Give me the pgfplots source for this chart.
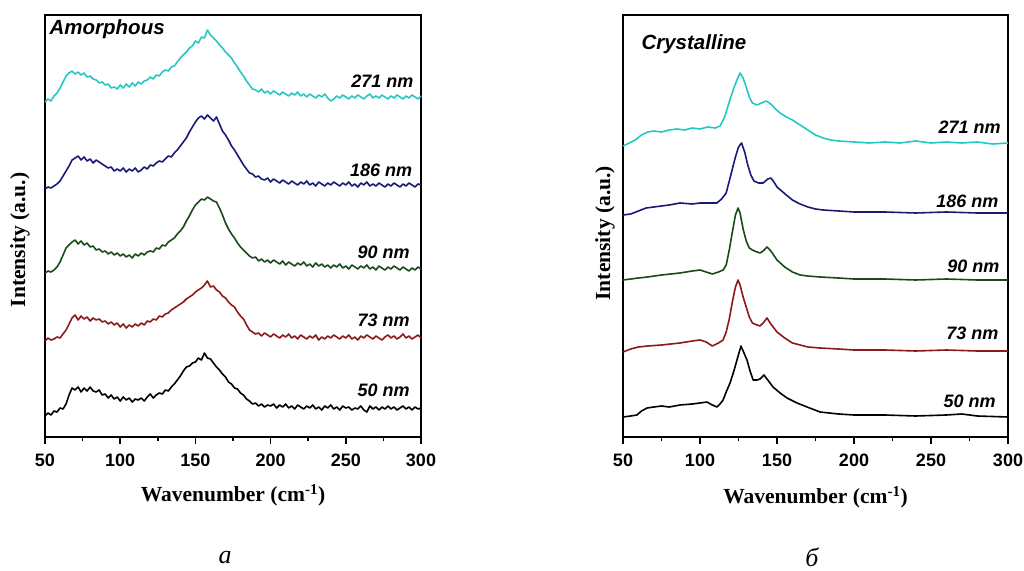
\documentclass[border=0pt]{standalone}
\usepackage{fontspec}
\setmainfont{Liberation Serif}
\newfontfamily\sansf{Liberation Sans}
\usepackage{pgfplots}
\pgfplotsset{compat=1.18}
\definecolor{ccyan}{RGB}{35,200,195}
\definecolor{cnavy}{RGB}{25,25,120}
\definecolor{cgreen}{RGB}{25,75,25}
\definecolor{cred}{RGB}{140,25,25}
\pgfplotsset{
  spec/.style={
    scale only axis, height=422pt,
    xmin=50, xmax=300, ymin=0, ymax=422,
    xtick={50,100,...,300}, minor x tick num=1,
    ytick=\empty, tick align=outside, xtick pos=bottom,
    major tick length=7pt, minor tick length=4pt,
    axis line style={line width=1.8pt},
    every tick/.style={black, line width=1.5pt},
    /pgf/number format/assume math mode=true,
    xticklabel style={font=\sansf\bfseries\fontsize{18}{20}\selectfont, yshift=-6pt},
    label style={font=\bfseries\fontsize{21.5}{24}\selectfont},
    xlabel={Wavenumber (cm\textsuperscript{-1})},
    ylabel={Intensity (a.u.)},
    clip=false,
  },
  curve/.style={line width=1.6pt, line join=round},
}
\tikzset{lab/.style={anchor=base east, font=\sansf\bfseries\itshape\fontsize{18}{20}\selectfont},
  ttl/.style={anchor=base west, font=\sansf\bfseries\itshape\fontsize{20.5}{22}\selectfont}}
\begin{document}
\begin{tikzpicture}[x=1pt,y=1pt]
\path[use as bounding box] (0,0) rectangle (1024,570);
% ---------------- Amorphous ----------------
\begin{axis}[spec, at={(45pt,133pt)}, anchor=south west, width=376pt,
  xlabel style={at={(axis description cs:0.5,-0.154)}, anchor=base},
  ylabel style={at={(axis description cs:-0.0665,0.467)}, anchor=center, rotate=0}]
% 50 nm
\addplot[curve, black] coordinates {(50,21)(52,24)(54,22)(56,26)(58,25)(60,29)(62,28)(64,33)(66,42)(68,49)(70,47)(72,50)(74,45)(76,49)(78,46)(80,50)(82,46)(84,45)(86,47)(88,42)(90,43)(92,39)(94,42)(96,38)(98,40)(100,36)(102,40)(104,37)(106,39)(108,35)(110,38)(112,37)(114,39)(116,36)(118,40)(120,43)(122,39)(124,42)(126,44)(128,43)(130,47)(132,46)(134,50)(136,53)(138,57)(140,61)(142,66)(144,70)(146,71)(148,74)(150,75)(152,79)(154,77)(156,84)(158,79)(160,78)(162,74)(164,70)(166,67)(168,63)(170,60)(172,55)(174,53)(176,49)(178,48)(180,44)(182,42)(184,38)(186,36)(188,33)(190,34)(192,31)(194,33)(196,30)(198,32)(200,31)(202,33)(204,29)(206,32)(208,30)(210,33)(212,29)(214,31)(216,28)(218,32)(220,30)(222,28)(224,31)(226,29)(228,32)(230,28)(232,30)(234,27)(236,31)(238,29)(240,32)(242,28)(244,30)(246,27)(248,31)(250,29)(252,30)(254,27)(256,29)(258,28)(260,31)(262,27)(264,25)(266,31)(268,28)(270,30)(272,27)(274,30)(276,28)(278,31)(280,28)(282,30)(284,27)(286,29)(288,31)(290,28)(292,30)(294,27)(296,30)(298,28)(300,29)};
% 73 nm
\addplot[curve, cred] coordinates {(50,96)(52,99)(54,97)(56,98)(58,100)(60,99)(62,103)(64,107)(66,113)(68,119)(70,122)(72,117)(74,121)(76,118)(78,120)(80,116)(82,119)(84,117)(86,118)(88,115)(90,116)(92,113)(94,115)(96,112)(98,114)(100,110)(102,113)(104,109)(106,112)(108,110)(110,113)(112,111)(114,114)(116,112)(118,116)(120,115)(122,118)(124,117)(126,121)(128,120)(130,123)(132,124)(134,127)(136,129)(138,131)(140,133)(142,135)(144,138)(146,140)(148,142)(150,145)(152,147)(154,149)(156,152)(158,156)(160,150)(162,151)(164,147)(166,145)(168,141)(170,139)(172,135)(174,132)(176,130)(178,125)(180,121)(182,118)(184,112)(186,107)(188,105)(190,103)(192,104)(194,101)(196,104)(198,102)(200,100)(202,103)(204,101)(206,99)(208,102)(210,100)(212,103)(214,99)(216,101)(218,98)(220,102)(222,100)(224,98)(226,101)(228,99)(230,102)(232,97)(234,100)(236,98)(238,101)(240,99)(242,102)(244,100)(246,98)(248,101)(250,99)(252,102)(254,98)(256,100)(258,97)(260,101)(262,99)(264,102)(266,100)(268,98)(270,101)(272,99)(274,97)(276,100)(278,102)(280,99)(282,101)(284,98)(286,100)(288,103)(290,99)(292,101)(294,98)(296,100)(298,102)(300,99)};
% 90 nm
\addplot[curve, cgreen] coordinates {(50,164)(52,166)(54,165)(56,167)(58,170)(60,175)(62,182)(64,189)(66,192)(68,195)(70,197)(72,193)(74,196)(76,192)(78,194)(80,190)(82,191)(84,187)(86,188)(88,185)(90,186)(92,183)(94,185)(96,182)(98,184)(100,181)(102,183)(104,180)(106,182)(108,179)(110,183)(112,181)(114,184)(116,182)(118,185)(120,186)(122,185)(124,189)(126,188)(128,192)(130,191)(132,195)(134,197)(136,199)(138,203)(140,206)(142,210)(144,216)(146,221)(148,227)(150,232)(152,235)(154,238)(156,237)(158,240)(160,238)(162,236)(164,235)(166,229)(168,222)(170,214)(172,208)(174,203)(176,199)(178,194)(180,190)(182,187)(184,184)(186,181)(188,179)(190,180)(192,176)(194,178)(196,175)(198,177)(200,174)(202,177)(204,175)(206,173)(208,176)(210,172)(212,175)(214,173)(216,171)(218,174)(220,172)(222,175)(224,171)(226,173)(228,170)(230,174)(232,171)(234,173)(236,170)(238,172)(240,169)(242,172)(244,170)(246,173)(248,169)(250,171)(252,168)(254,172)(256,170)(258,168)(260,171)(262,169)(264,172)(266,168)(268,170)(270,167)(272,171)(274,169)(276,167)(278,170)(280,168)(282,171)(284,169)(286,167)(288,170)(290,168)(292,166)(294,169)(296,167)(298,170)(300,168)};
% 186 nm
\addplot[curve, cnavy] coordinates {(50,248)(52,250)(54,249)(56,251)(58,253)(60,256)(62,261)(64,266)(66,271)(68,277)(70,279)(72,281)(74,277)(76,280)(78,276)(80,278)(82,274)(84,277)(86,275)(88,273)(90,271)(92,269)(94,270)(96,266)(98,268)(100,266)(102,269)(104,265)(106,268)(108,266)(110,269)(112,265)(114,267)(116,270)(118,268)(120,272)(122,271)(124,274)(126,276)(128,275)(130,278)(132,281)(134,280)(136,284)(138,287)(140,291)(142,295)(144,299)(146,305)(148,310)(150,315)(152,319)(154,321)(156,318)(158,322)(160,319)(162,316)(164,320)(166,313)(168,306)(170,302)(172,297)(174,291)(176,287)(178,282)(180,277)(182,272)(184,268)(186,264)(188,263)(190,260)(192,261)(194,258)(196,257)(198,259)(200,255)(202,258)(204,256)(206,254)(208,257)(210,255)(212,253)(214,256)(216,254)(218,252)(220,255)(222,253)(224,256)(226,252)(228,254)(230,251)(232,255)(234,253)(236,251)(238,254)(240,252)(242,255)(244,253)(246,251)(248,254)(250,252)(252,255)(254,251)(256,253)(258,250)(260,254)(262,252)(264,255)(266,251)(268,253)(270,251)(272,254)(274,252)(276,250)(278,253)(280,251)(282,254)(284,252)(286,250)(288,253)(290,251)(292,254)(294,252)(296,250)(298,253)(300,252)};
% 271 nm
\addplot[curve, ccyan] coordinates {(50,335)(52,338)(54,336)(56,341)(58,344)(60,349)(62,355)(64,361)(66,364)(68,366)(70,363)(72,365)(74,362)(76,364)(78,360)(80,361)(82,358)(84,357)(86,354)(88,355)(90,352)(92,353)(94,349)(96,350)(98,348)(100,352)(102,349)(104,353)(106,350)(108,354)(110,351)(112,355)(114,353)(116,356)(118,357)(120,360)(122,358)(124,362)(126,361)(128,365)(130,367)(132,366)(134,370)(136,371)(138,375)(140,379)(142,382)(144,385)(146,389)(148,391)(150,396)(152,394)(154,400)(156,399)(158,407)(160,402)(162,399)(164,396)(166,392)(168,389)(170,385)(172,382)(174,379)(176,374)(178,370)(180,365)(182,361)(184,356)(186,352)(188,348)(190,347)(192,345)(194,348)(196,344)(198,346)(200,343)(202,346)(204,344)(206,342)(208,345)(210,343)(212,341)(214,344)(216,342)(218,345)(220,341)(222,343)(224,340)(226,343)(228,341)(230,339)(232,342)(234,340)(236,343)(238,339)(240,336)(242,338)(244,341)(246,339)(248,342)(250,340)(252,338)(254,341)(256,339)(258,342)(260,340)(262,338)(264,341)(266,343)(268,339)(270,341)(272,339)(274,342)(276,340)(278,338)(280,341)(282,339)(284,342)(286,340)(288,338)(290,341)(292,339)(294,342)(296,340)(298,338)(300,341)};
\node[ttl] at (rel axis cs:0.003,0.9526) {Amorphous};
\node[lab] at (rel axis cs:0.989,0.829) {271 nm};
\node[lab] at (rel axis cs:0.986,0.618) {186 nm};
\node[lab] at (rel axis cs:0.979,0.422) {90 nm};
\node[lab] at (rel axis cs:0.979,0.261) {73 nm};
\node[lab] at (rel axis cs:0.979,0.095) {50 nm};
\end{axis}
% ---------------- Crystalline ----------------
\begin{axis}[spec, at={(623pt,133pt)}, anchor=south west, width=385pt,
  xlabel style={at={(axis description cs:0.5,-0.158)}, anchor=base},
  ylabel style={at={(axis description cs:-0.0468,0.483)}, anchor=center, rotate=0}]
\addplot[curve, black] coordinates {(50,20)(55,21)(59,22)(62,26)(65.6,29)(70,30)(75,31)(80,30)(87,32)(95,33)(100,34)(104.5,35)(108,32)(111,30)(113,33)(115,37)(117,45)(119.5,54)(122,66)(124,77)(126.6,91)(128,86)(130.5,77)(132.5,66)(134.5,57)(137,57)(139,58)(141.5,62)(144,57)(147.4,50)(152,44)(156.5,39)(163,34)(169.5,30)(178,25)(190,23)(200,22)(220,22)(240,21)(260,22)(270,23)(280,21)(300,20)};
\addplot[curve, cred] coordinates {(50,85)(55,88)(60,90)(66,91)(75,92)(87,94)(95,96)(100,97)(104,95)(108,91)(112,94)(115,97)(117,105)(119,118)(121,135)(123,150)(124.7,157)(126,152)(128,140)(130,130)(132,120)(134,114)(137,112)(139,111)(141,114)(143.5,119)(146,113)(150,105)(155,99)(160,94)(165,92)(170,90)(178,89)(190,88)(200,87)(220,87)(240,86)(260,87)(280,86)(300,86)};
\addplot[curve, cgreen] coordinates {(50,157)(55,158)(60,159)(66,160)(75,162)(87,164)(95,166)(100,167)(104,165)(108,163)(112,165)(115,167)(117,172)(119,187)(121,205)(123,222)(124.7,229)(126,224)(128,208)(130,196)(132,189)(134,187)(137,185)(139,184)(141,186)(143.5,190)(146,186)(150,177)(155,170)(160,165)(165,162)(170,161)(178,160)(190,159)(200,158)(220,158)(240,157)(260,158)(280,157)(300,157)};
\addplot[curve, cnavy] coordinates {(50,222)(55,223)(60,226)(65,229)(70,230)(75,231)(80,232)(87,234)(95,233)(100,234)(105,234)(111,234)(114,238)(117,244)(119,256)(121,268)(123,280)(125,290)(127,294)(129,285)(131,272)(133,262)(135,256)(138,254)(141,254)(144,258)(146,259)(148,255)(150,250)(153,246)(156,242)(160,237)(165,233)(170,230)(175,228)(180,227)(190,226)(200,225)(220,225)(240,224)(260,225)(280,224)(300,224)};
\addplot[curve, ccyan] coordinates {(50,291)(54,294)(58,297)(62,302)(66,305)(70,306)(75,305)(80,307)(85,308)(90,307)(95,309)(100,308)(105,310)(110,309)(113,311)(116,320)(118,330)(120,340)(122,349)(124,357)(126,364)(128,359)(130,350)(132,340)(134,334)(137,332)(140,334)(143,336)(146,333)(149,328)(152,324)(156,320)(160,317)(165,312)(170,307)(175,302)(180,299)(185,297)(190,296)(200,295)(210,294)(220,295)(230,294)(240,296)(250,294)(260,295)(270,294)(280,295)(290,293)(300,294)};
\node[ttl] at (rel axis cs:0.039,0.919) {Crystalline};
\node[lab] at (rel axis cs:0.99,0.720) {271 nm};
\node[lab] at (rel axis cs:0.984,0.543) {186 nm};
\node[lab] at (rel axis cs:0.987,0.389) {90 nm};
\node[lab] at (rel axis cs:0.984,0.230) {73 nm};
\node[lab] at (rel axis cs:0.977,0.071) {50 nm};
\end{axis}
\node[font=\itshape\fontsize{26}{28}\selectfont] at (225,12) {а};
\node[font=\itshape\fontsize{26}{28}\selectfont] at (812,13) {б};
\end{tikzpicture}
\end{document}
